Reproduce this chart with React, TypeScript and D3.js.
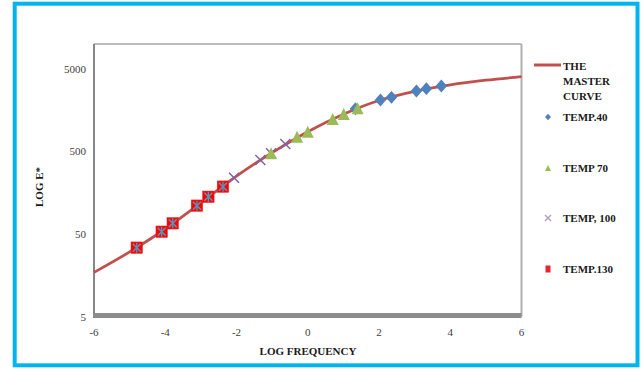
import React, { useEffect, useRef } from 'react'
import * as d3 from 'd3'

// master curve (log frequency -> E*)
const curveX = [-6, -5, -4, -3, -2, -1, 0, 1, 2, 3, 4, 5, 6]
const curveY = [17.1, 30.3, 57.4, 119, 251, 483, 867, 1412, 2070, 2672, 3198, 3640, 4017]

const temp40X = [1.34, 2.04, 2.35, 3.05, 3.33, 3.75]
const temp40Y = [1640, 2097, 2260, 2695, 2877, 3100]

const temp70X = [-1.03, -0.3, 0.0, 0.7, 1.01, 1.4]
const temp70Y = [474, 754, 867, 1234, 1419, 1663]

const temp100X = [-2.07, -1.33, -1.03, -0.63]
const temp100Y = [240, 393, 474, 615]

const temp130X = [-4.8, -4.1, -3.79, -3.11, -2.79, -2.38]
const temp130Y = [34.1, 53.2, 67.3, 110, 141, 187]

const xTicks = [-6, -4, -2, 0, 2, 4, 6]
const yTicks = [5, 50, 500, 5000]

const legendLabels = ['TEMP.40', 'TEMP 70', 'TEMP, 100', 'TEMP.130']

const W = 643
const H = 369
const font = '"Liberation Serif", "Times New Roman", serif'

export default function App() {
  const ref = useRef<SVGSVGElement | null>(null)

  useEffect(() => {
    const svg = d3.select(ref.current)
    svg.selectAll('*').remove()

    const left = 94
    const right = 521.5
    const top = 44
    const bottom = 316.5

    const x = d3.scaleLinear().domain([-6, 6]).range([left, right])
    const y = d3.scaleLog().domain([5, 10000]).range([bottom, top])

    // outer blue frame
    svg.append('rect')
      .attr('x', 14.7).attr('y', 3.7)
      .attr('width', 622.8).attr('height', 361.6)
      .attr('fill', '#fff')
      .attr('stroke', '#00B4F0')
      .attr('stroke-width', 4)

    // plot area border
    svg.append('line').attr('x1', left).attr('x2', right).attr('y1', top).attr('y2', top)
      .attr('stroke', '#a6a6a6').attr('stroke-width', 1.5)
    svg.append('line').attr('x1', right).attr('x2', right).attr('y1', top).attr('y2', bottom)
      .attr('stroke', '#b0b0b0').attr('stroke-width', 2)
    svg.append('line').attr('x1', left).attr('x2', left).attr('y1', top).attr('y2', bottom)
      .attr('stroke', '#868686').attr('stroke-width', 2)
    svg.append('rect').attr('x', left - 1).attr('y', bottom - 3.5)
      .attr('width', right - left + 1).attr('height', 5)
      .attr('fill', '#8c8c8c')

    // tick labels
    svg.append('g').selectAll('text')
      .data(xTicks)
      .enter()
      .append('text')
      .attr('x', d => x(d))
      .attr('y', 336)
      .attr('text-anchor', 'middle')
      .attr('font-family', font)
      .attr('font-size', 11)
      .attr('fill', '#404040')
      .text(d => String(d))

    svg.append('g').selectAll('text')
      .data(yTicks)
      .enter()
      .append('text')
      .attr('x', 86)
      .attr('y', d => y(d) + 4)
      .attr('text-anchor', 'end')
      .attr('font-family', font)
      .attr('font-size', 11)
      .attr('fill', '#404040')
      .text(d => String(d))

    // axis titles
    svg.append('text')
      .attr('x', 308).attr('y', 355)
      .attr('text-anchor', 'middle')
      .attr('font-family', font)
      .attr('font-size', 11)
      .attr('font-weight', 'bold')
      .attr('fill', '#1a1a1a')
      .text('LOG FREQUENCY')

    svg.append('text')
      .attr('transform', 'translate(43,187) rotate(-90)')
      .attr('text-anchor', 'middle')
      .attr('font-family', font)
      .attr('font-size', 11)
      .attr('font-weight', 'bold')
      .attr('fill', '#1a1a1a')
      .text('LOG E*')

    // master curve
    const line = d3.line<number>()
      .x(d => x(curveX[d]))
      .y(d => y(curveY[d]))
      .curve(d3.curveMonotoneX)
    svg.append('path')
      .attr('d', line(d3.range(curveX.length)))
      .attr('fill', 'none')
      .attr('stroke', '#C0504D')
      .attr('stroke-width', 2.75)

    // markers
    const diamond = (g: any, cx: number, cy: number, s: number) =>
      g.append('path')
        .attr('d', `M${cx},${cy - s * 0.56}L${cx + s * 0.5},${cy}L${cx},${cy + s * 0.56}L${cx - s * 0.5},${cy}Z`)
        .attr('fill', '#4F81BD')
    const triangle = (g: any, cx: number, cy: number, s: number) =>
      g.append('path')
        .attr('d', `M${cx},${cy - s * 0.5}L${cx + s * 0.5},${cy + s * 0.5}L${cx - s * 0.5},${cy + s * 0.5}Z`)
        .attr('fill', '#9BBB59')
    const cross = (g: any, cx: number, cy: number, s: number, color: string) =>
      g.append('path')
        .attr('d', `M${cx - s / 2},${cy - s / 2}L${cx + s / 2},${cy + s / 2}M${cx + s / 2},${cy - s / 2}L${cx - s / 2},${cy + s / 2}`)
        .attr('stroke', color).attr('stroke-width', 1.5).attr('fill', 'none')
    const square = (g: any, cx: number, cy: number, s: number) =>
      g.append('rect')
        .attr('x', cx - s / 2).attr('y', cy - s / 2)
        .attr('width', s).attr('height', s)
        .attr('fill', '#FF0000')
        .attr('stroke', '#e03030').attr('stroke-width', 0.5)

    const g = svg.append('g')
    temp130X.forEach((d, i) => {
      const cx = x(d)
      const cy = y(temp130Y[i])
      square(g, cx, cy, 11.5)
      cross(g, cx, cy, 8, '#4F9BC2')
      g.append('line').attr('x1', cx).attr('x2', cx).attr('y1', cy - 5).attr('y2', cy + 5)
        .attr('stroke', '#4F9BC2').attr('stroke-width', 1.3)
    })
    temp100X.forEach((d, i) => cross(g, x(d), y(temp100Y[i]), 10, '#8064A2'))
    temp40X.forEach((d, i) => diamond(g, x(d), y(temp40Y[i]), 11.5))
    temp70X.forEach((d, i) => triangle(g, x(d), y(temp70Y[i]), 12))

    // legend
    const lg = svg.append('g')
    lg.append('line').attr('x1', 534).attr('x2', 561).attr('y1', 65).attr('y2', 65)
      .attr('stroke', '#C0504D').attr('stroke-width', 3)
    ;['THE', 'MASTER', 'CURVE'].forEach((t, i) => {
      lg.append('text')
        .attr('x', 563).attr('y', 70 + i * 15)
        .attr('font-family', font).attr('font-size', 11).attr('font-weight', 'bold')
        .attr('fill', '#1a1a1a')
        .text(t)
    })
    const ly = [117, 168, 218, 269]
    legendLabels.forEach((t, i) => {
      lg.append('text')
        .attr('x', 563).attr('y', ly[i] + 4)
        .attr('font-family', font).attr('font-size', 11).attr('font-weight', 'bold')
        .attr('fill', '#1a1a1a')
        .text(t)
    })
    diamond(lg, 548, ly[0], 6)
    triangle(lg, 548, ly[1], 6)
    cross(lg, 548, ly[2], 6, '#B3A2C7')
    lg.append('rect').attr('x', 545.5).attr('y', ly[3] - 3.5).attr('width', 5).attr('height', 7)
      .attr('fill', '#E8262B')
  }, [])

  return (
    <svg
      ref={ref}
      width={W}
      height={H}
      style={{ position: 'absolute', left: 0, top: 0, background: '#fff' }}
    />
  )
}
